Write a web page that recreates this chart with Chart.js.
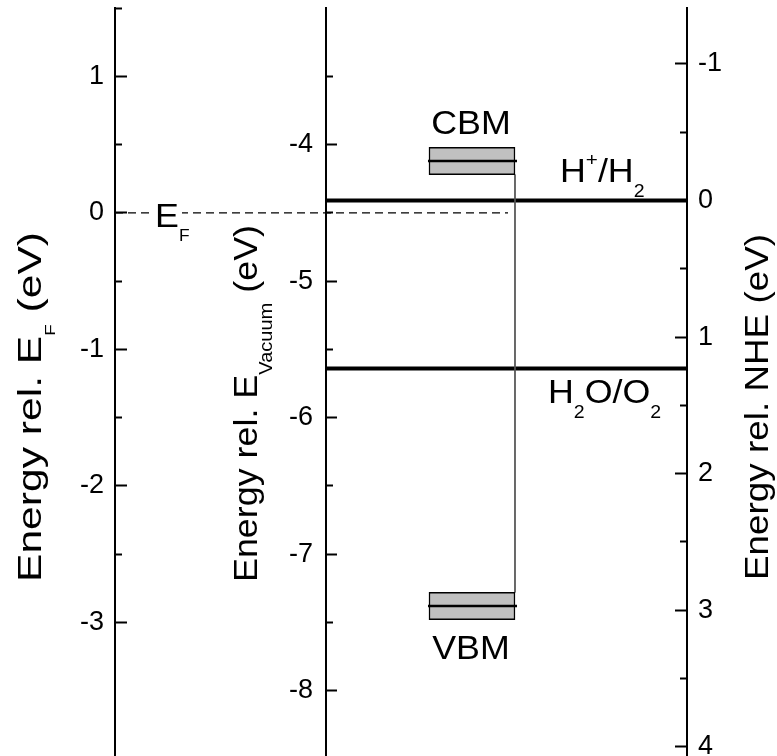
<!DOCTYPE html>
<html>
<head>
<meta charset="utf-8">
<script src="https://cdn.jsdelivr.net/npm/chart.js@4.4.0/dist/chart.umd.min.js"></script>
<style>
html,body{margin:0;padding:0;background:#fff;width:777px;height:756px;overflow:hidden}
canvas{display:block}
</style>
</head>
<body>
<canvas id="c" width="777" height="759"></canvas>
<script>
// ---------------- data (eV) ----------------
const EF_VAC = -4.5;              // Fermi level relative to vacuum
const NHE_VAC = -4.41;            // NHE zero relative to vacuum
const redoxNames = ['H+/H2', 'H2O/O2'];
const redoxNHE = [0, 1.23];       // vs NHE
const bandNames = ['CBM', 'VBM'];
const bandCenters = [-4.12, -7.38];   // vs vacuum
const bandHalfWidths = [0.10, 0.10];
const vacTicks = [-4, -5, -6, -7, -8];
const efTicks = [1, 0, -1, -2, -3];
const nheTicks = [-1, 0, 1, 2, 3, 4];
const vacRange = [-8.5, -3.0];

// ---------------- layout (x in 0..1 across the plot) ----------------
const LAY = {
  midAxisX: 0.3689,
  efLineEnd: 0.6871,
  bandCenterX: 0.6241,
  bandThickness: 86,
  bandLineX0: 0.5472,
  bandLineX1: 0.7028,
  connectorX: 0.6993
};

const FONT = '"Liberation Sans", Arial, Helvetica, sans-serif';
const TICK_SIZE = 27;
const efRange = [vacRange[0] - EF_VAC, vacRange[1] - EF_VAC];
const nheRange = [NHE_VAC - vacRange[1], NHE_VAC - vacRange[0]];
const halves = arr => arr.map(v => v + 0.5);

function noPad(s) { s.paddingTop = 0; s.paddingBottom = 0; }

function majorAxis(extra) {
  return Object.assign({
    axis: 'y', type: 'linear',
    border: { display: true, color: '#000', width: 2 },
    grid: { drawOnChartArea: false, drawTicks: true, tickLength: -12, tickWidth: 2, tickColor: '#000', color: '#000' }
  }, extra);
}
function minorAxis(extra, tl) {
  return Object.assign({
    axis: 'y', type: 'linear',
    border: { display: false },
    grid: { drawOnChartArea: false, drawTicks: true, tickLength: tl, tickWidth: 2, tickColor: '#000', color: '#000' },
    ticks: { display: false }
  }, extra);
}

const datasets = [];
// band centre lines (on top)
bandCenters.forEach((c, i) => {
  datasets.push({
    type: 'line', label: bandNames[i] + ' level', yAxisID: 'yVac', order: 0,
    data: [{ x: LAY.bandLineX0, y: c }, { x: LAY.bandLineX1, y: c }],
    borderColor: '#000', borderWidth: 2.5, pointRadius: 0
  });
});
// band boxes
datasets.push({
  type: 'bar', label: 'bands', yAxisID: 'yVac', order: 1, grouped: false,
  data: bandCenters.map((c, i) => ({ x: LAY.bandCenterX, y: [c - bandHalfWidths[i], c + bandHalfWidths[i]] })),
  backgroundColor: '#c0c0c0', borderColor: '#000', borderWidth: 1.5, borderSkipped: false,
  barThickness: LAY.bandThickness
});
// connector
datasets.push({
  type: 'line', label: 'gap', yAxisID: 'yVac', order: 2,
  data: [{ x: LAY.connectorX, y: bandCenters[0] - bandHalfWidths[0] }, { x: LAY.connectorX, y: bandCenters[1] + bandHalfWidths[1] }],
  borderColor: '#555', borderWidth: 1, pointRadius: 0
});
// Fermi level
datasets.push({
  type: 'line', label: 'EF', yAxisID: 'yEF', order: 2,
  data: [{ x: 0, y: 0 }, { x: LAY.efLineEnd, y: 0 }],
  borderColor: '#000', borderWidth: 1.2, borderDash: [8, 5], pointRadius: 0
});
// redox levels
redoxNHE.forEach((v, i) => {
  datasets.push({
    type: 'line', label: redoxNames[i], yAxisID: 'yNHE', order: 2,
    data: [{ x: LAY.midAxisX, y: v }, { x: 1, y: v }],
    borderColor: '#000', borderWidth: 4, pointRadius: 0
  });
});

function drawRich(ctx, segs, o) {
  ctx.save();
  ctx.translate(o.x, o.y);
  if (o.rot) ctx.rotate(o.rot);
  let total = 0;
  const w = segs.map(g => { ctx.font = g.s + 'px ' + FONT; const m = ctx.measureText(g.t).width; total += m; return m; });
  const k = o.fit ? o.fit / total : (o.stretch || 1);
  ctx.scale(k, 1);
  let cx = o.align === 'center' ? -total / 2 : 0;
  ctx.fillStyle = '#000'; ctx.textAlign = 'left'; ctx.textBaseline = 'alphabetic';
  segs.forEach((g, i) => { ctx.font = g.s + 'px ' + FONT; ctx.fillText(g.t, cx, g.dy || 0); cx += w[i]; });
  ctx.restore();
}

const labelPlugin = {
  id: 'labels',
  afterDraw(chart) {
    const ctx = chart.ctx, S = chart.scales;
    const xs = S.x, yV = S.yVac, yE = S.yEF, yN = S.yNHE;
    const st = 1.085;
    // E_F label with knockout
    const pEF = yE.getPixelForValue(0);
    ctx.save(); ctx.fillStyle = '#fff'; ctx.fillRect(151, pEF - 3, 31, 6); ctx.restore();
    drawRich(ctx, [{ t: 'E', s: 33 }, { t: 'F', s: 16, dy: 14 }], { x: 155, y: pEF + 14, stretch: st });
    // band labels
    const bx = xs.getPixelForValue(LAY.bandCenterX) - 1;
    drawRich(ctx, [{ t: bandNames[0], s: 33 }], { x: bx, y: yV.getPixelForValue(bandCenters[0] + bandHalfWidths[0]) - 13, stretch: st, align: 'center' });
    drawRich(ctx, [{ t: bandNames[1], s: 33 }], { x: bx, y: yV.getPixelForValue(bandCenters[1] - bandHalfWidths[1]) + 39, stretch: st, align: 'center' });
    // redox labels
    drawRich(ctx, [{ t: 'H', s: 33 }, { t: '+', s: 19, dy: -16 }, { t: '/H', s: 33 }, { t: '2', s: 18, dy: 15 }],
      { x: 560, y: yN.getPixelForValue(redoxNHE[0]) - 19, stretch: st });
    drawRich(ctx, [{ t: 'H', s: 33 }, { t: '2', s: 18, dy: 15 }, { t: 'O/O', s: 33 }, { t: '2', s: 18, dy: 15 }],
      { x: 548, y: yN.getPixelForValue(redoxNHE[1]) + 35, stretch: st });
    // axis titles
    const R = -Math.PI / 2;
    drawRich(ctx, [{ t: 'Energy rel. E', s: 34 }, { t: 'F', s: 15, dy: 14 }, { t: ' (eV)', s: 34 }], { x: 41, y: 582, rot: R, fit: 350 });
    drawRich(ctx, [{ t: 'Energy rel. E', s: 34 }, { t: 'Vacuum', s: 19, dy: 15 }, { t: ' (eV)', s: 34 }], { x: 257, y: 582, rot: R, fit: 357 });
    drawRich(ctx, [{ t: 'Energy rel. NHE (eV)', s: 34 }], { x: 768, y: 580, rot: R, fit: 346 });
  }
};

const tickFont = { family: FONT, size: TICK_SIZE };

new Chart(document.getElementById('c'), {
  type: 'line',
  data: { datasets },
  options: {
    responsive: false, animation: false, devicePixelRatio: 1, events: [],
    layout: { padding: { top: 8, bottom: 0, left: 0, right: 0 } },
    plugins: { legend: { display: false }, tooltip: { enabled: false } },
    scales: {
      x: { type: 'linear', min: 0, max: 1, display: false, offset: false },
      yEF: majorAxis({
        position: 'left', min: efRange[0], max: efRange[1],
        afterBuildTicks: s => { s.ticks = efTicks.map(v => ({ value: v })); },
        afterFit: s => { s.width = 115; noPad(s); },
        ticks: { color: '#000', font: tickFont, autoSkip: false, padding: 23, callback: v => String(v) }
      }),
      yNHE: majorAxis({
        position: 'right', min: nheRange[0], max: nheRange[1], reverse: true,
        afterBuildTicks: s => { s.ticks = nheTicks.map(v => ({ value: v })); },
        afterFit: s => { s.width = 90; noPad(s); },
        ticks: { color: '#000', font: tickFont, autoSkip: false, padding: 23, callback: v => String(v) }
      }),
      yVac: majorAxis({
        position: { x: LAY.midAxisX }, min: vacRange[0], max: vacRange[1],
        afterBuildTicks: s => { s.ticks = vacTicks.map(v => ({ value: v })); },
        afterFit: s => { noPad(s); },
        ticks: { color: '#000', font: tickFont, autoSkip: false, padding: 0, callback: v => String(v) + ' \u2009' }
      }),
      yEFm: minorAxis({
        position: { x: 0 }, min: efRange[0], max: efRange[1],
        afterBuildTicks: s => { s.ticks = halves(efTicks).map(v => ({ value: v })); },
        afterFit: noPad
      }, -7),
      yVacm: minorAxis({
        position: { x: LAY.midAxisX }, min: vacRange[0], max: vacRange[1],
        afterBuildTicks: s => { s.ticks = halves(vacTicks).map(v => ({ value: v })); },
        afterFit: noPad
      }, -7),
      yNHEm: minorAxis({
        position: { x: 1 }, min: nheRange[0], max: nheRange[1], reverse: true,
        afterBuildTicks: s => { s.ticks = halves(nheTicks).map(v => ({ value: v })).filter(t => t.value <= nheRange[1]); },
        afterFit: noPad
      }, 7)
    }
  },
  plugins: [labelPlugin]
});
</script>
</body>
</html>
